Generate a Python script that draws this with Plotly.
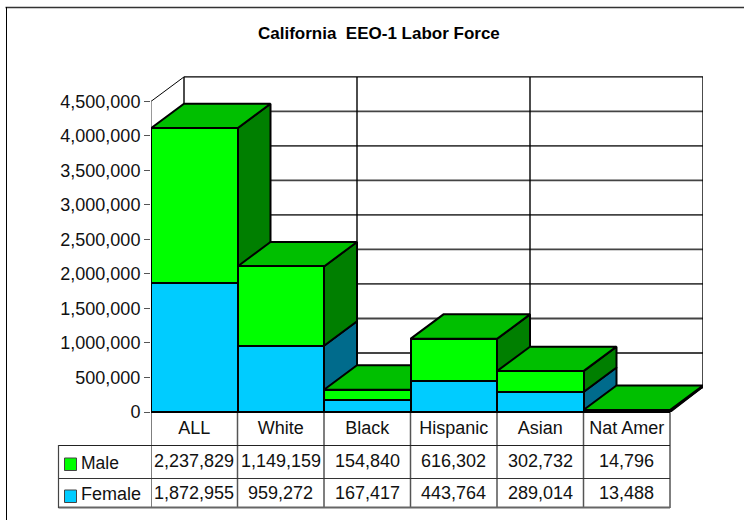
import plotly.graph_objects as go

categories = ["ALL", "White", "Black", "Hispanic", "Asian", "Nat Amer"]
male = [2237829, 1149159, 154840, 616302, 302732, 14796]
female = [1872955, 959272, 167417, 443764, 289014, 13488]
y_ticks = [0, 500000, 1000000, 1500000, 2000000, 2500000, 3000000, 3500000, 4000000, 4500000]
title = "California  EEO-1 Labor Force"

W, H = 744, 520
L, R, T, B = 151, 703, 76, 412
FONT = "Liberation Sans, Arial, sans-serif"
FS = 18
CAT_PX = (670 - 151) / 6
UNIT_PX = 310.6 / 4500000
DX = 33 / CAT_PX
DY = 24.5 / UNIT_PX
XR = [-0.5, 5.5 + DX]
YR = [0, (B - T) / UNIT_PX]

def px(x):
    return (x - L) / (R - L)

def py(y):
    return (B - y) / (B - T)

fig = go.Figure()
line = dict(color="black", width=2)

def face(xs, ys, color):
    fig.add_trace(go.Scatter(x=xs, y=ys, mode="lines", fill="toself", fillcolor=color,
                             line=line, hoverinfo="skip", showlegend=False))

for i, cat in enumerate(categories):
    xl, xr = i - 0.5, i + 0.5
    f, t = female[i], female[i] + male[i]
    face([xr, xr + DX, xr + DX, xr, xr], [0, DY, f + DY, f, 0], "#006B8C")
    face([xr, xr + DX, xr + DX, xr, xr], [f, f + DY, t + DY, t, f], "#007F00")
    face([xl, xr, xr + DX, xl + DX, xl], [t, t, t + DY, t + DY, t], "#00BF00")

fig.add_trace(go.Bar(x=list(range(6)), y=female, width=1, name="Female", marker=dict(color="#00CCFF", line=dict(color="black", width=2)),
                     xaxis="x2", yaxis="y2", showlegend=False))
fig.add_trace(go.Bar(x=list(range(6)), y=male, width=1, name="Male", marker=dict(color="#00FF00", line=dict(color="black", width=2)),
                     xaxis="x2", yaxis="y2", showlegend=False))

shapes = []
def seg(x0, y0, x1, y1, color="black", width=1, xref="x", yref="y", layer="below"):
    shapes.append(dict(type="line", x0=x0, y0=y0, x1=x1, y1=y1, xref=xref, yref=yref,
                       layer=layer, line=dict(color=color, width=width)))

back_x0 = XR[0] + DX
back_x1 = XR[1]
for v in y_ticks[:-1]:
    seg(back_x0, v + DY, back_x1, v + DY, "#444444", 1.8)
seg(back_x0, y_ticks[-1] + DY, back_x1, y_ticks[-1] + DY, "black", 1.4)
for k in (0, 2, 4, 6):
    seg(XR[0] + k + DX, DY, XR[0] + k + DX, y_ticks[-1] + DY, "black", 1.4)
seg(XR[0], y_ticks[-1], XR[0] + DX, y_ticks[-1] + DY, "black", 1)
seg(XR[0], 0, XR[0], y_ticks[-1], "#777777", 1.5)

# data table under the plot
for i in range(7):
    x = i - 0.5
    seg(x, py(412), x, py(508), "#555555", 1.5, yref="paper", layer="above")
for yy, c, w in ((445.5, "#222222", 1), (478.5, "#333333", 1), (507.5, "#666666", 1.8)):
    shapes.append(dict(type="line", xref="paper", yref="paper", x0=px(58.5), x1=px(670), y0=py(yy), y1=py(yy),
                       line=dict(color=c, width=w)))
shapes.append(dict(type="line", xref="paper", yref="paper", x0=px(58.5), x1=px(58.5), y0=py(445), y1=py(508),
                   line=dict(color="#444444", width=1.2)))
# baseline over the bars, heavier under the near-zero last bar
shapes.append(dict(type="line", xref="paper", yref="paper", x0=px(151), x1=px(670), y0=py(412), y1=py(412),
                   line=dict(color="black", width=2)))
shapes.append(dict(type="line", xref="paper", yref="paper", x0=px(584), x1=px(670), y0=py(411), y1=py(411),
                   line=dict(color="black", width=3)))
# legend keys
for y0, c in ((458, "#00FF00"), (490, "#00CCFF")):
    shapes.append(dict(type="rect", xref="paper", yref="paper", x0=px(64.5), x1=px(76.5), y0=py(y0), y1=py(y0 + 12.5),
                       fillcolor=c, line=dict(color="#444444", width=1)))
# outer frame
shapes.append(dict(type="line", xref="paper", yref="paper", x0=px(5.5), x1=px(744), y0=py(7.5), y1=py(7.5),
                   line=dict(color="#333333", width=1.6)))
shapes.append(dict(type="line", xref="paper", yref="paper", x0=px(6.5), x1=px(6.5), y0=py(7), y1=py(520),
                   line=dict(color="black", width=1)))

annotations = []
def note(text, x, y, xref="x", anchor="center", size=FS):
    annotations.append(dict(text=text, x=x, y=py(y), xref=xref, yref="paper", xanchor=anchor, yanchor="middle",
                            showarrow=False, font=dict(family=FONT, size=size, color="#111111")))

for i in range(6):
    note(f"{male[i]:,}", i, 461)
    note(f"{female[i]:,}", i, 492.5)
note("Male", px(79), 463, "paper", "left", 17.5)
note("Female", px(79), 494, "paper", "left", 18)
annotations.append(dict(text=f"<b>{title}</b>", x=px(379), y=py(33.5), xref="paper", yref="paper",
                        xanchor="center", yanchor="middle", showarrow=False,
                        font=dict(family=FONT, size=17, color="black")))

common = dict(range=XR, showgrid=False, zeroline=False, showline=False)
fig.update_layout(
    width=W, height=H, margin=dict(l=L, r=W - R, t=T, b=H - B, pad=0),
    paper_bgcolor="white", plot_bgcolor="white", barmode="stack", bargap=0,
    xaxis=dict(**common, tickmode="array", tickvals=list(range(6)), ticktext=categories,
               ticks="", ticklabelstandoff=3,
               tickfont=dict(family=FONT, size=FS, color="#111111")),
    yaxis=dict(range=YR, showgrid=False, zeroline=False, showline=False, tickmode="array",
               tickvals=y_ticks, tickformat=",", ticks="outside", ticklen=6, tickcolor="#555555",
               tickfont=dict(family=FONT, size=FS, color="#111111")),
    xaxis2=dict(range=XR, overlaying="x", visible=False),
    yaxis2=dict(range=YR, overlaying="y", visible=False),
    shapes=shapes, annotations=annotations, showlegend=False,
)
fig.write_html("out.html", config={"displayModeBar": False}, post_script="document.body.style.margin='0';")
